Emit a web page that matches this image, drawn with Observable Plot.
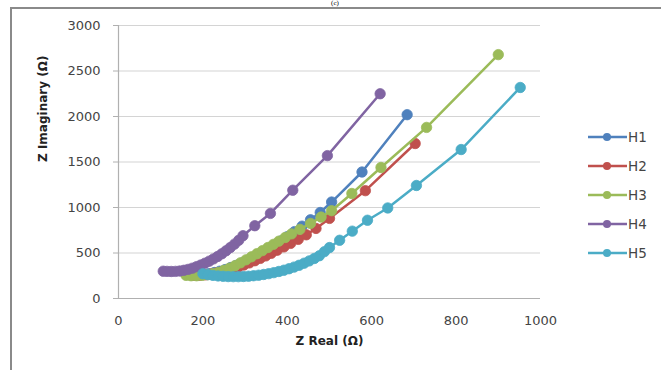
<!DOCTYPE html>
<html>
<head>
<meta charset="utf-8">
<script src="https://cdn.jsdelivr.net/npm/d3@7"></script>
<script src="https://cdn.jsdelivr.net/npm/@observablehq/plot@0.6"></script>
<style>
  html, body { margin: 0; padding: 0; background: #fff; }
  #wrap { position: relative; width: 661px; height: 370px; overflow: hidden; background: #fff; }
  #frame { position: absolute; left: 10px; top: 7px; width: 700px; height: 400px; border: 2px solid #8a8a8a; box-sizing: border-box; }
  #title { position: absolute; top: 0px; left: 300px; width: 70px; text-align: center; font: 7px "Liberation Serif", serif; color: #000; line-height: 7px; }
  #legend { position: absolute; left: 586px; top: 122px; font: 13.5px "DejaVu Sans", sans-serif; color: #444; }
  .item { height: 29.2px; display: flex; align-items: center; }
  .item svg { display: block; }
  #chart { position: absolute; left: 0; top: 0; }
</style>
</head>
<body>
<div id="wrap">
  <div id="frame"></div>
  <div id="chart"></div>
  <div id="title">(c)</div>
  <div id="legend"></div>
</div>
<script>
const seriesNames = ["H1", "H2", "H3", "H4", "H5"];
const seriesColors = ["#4F81BD", "#C0504D", "#9BBB59", "#8064A2", "#4BACC6"];

const h1Real = [162, 175, 188, 201, 214, 227, 240, 253, 266, 279, 292, 305, 318, 331, 344, 357, 370, 385, 400, 417, 435, 455, 478, 505, 577, 684];
const h1Imag = [262, 258, 259, 264, 273, 285, 300, 318, 340, 364, 390, 418, 448, 480, 514, 550, 588, 633, 680, 735, 795, 865, 945, 1060, 1390, 2020];

const h2Real = [168, 180, 193, 206, 219, 232, 245, 258, 271, 284, 297, 310, 323, 336, 349, 362, 376, 392, 408, 426, 445, 468, 500, 585, 703];
const h2Imag = [262, 256, 256, 260, 268, 279, 292, 308, 326, 346, 368, 391, 415, 441, 468, 497, 530, 567, 606, 650, 700, 770, 880, 1185, 1703];

const h3Real = [160, 172, 185, 198, 211, 224, 237, 250, 263, 276, 289, 302, 315, 328, 341, 354, 367, 380, 395, 410, 430, 455, 480, 505, 553, 622, 730, 900];
const h3Imag = [255, 250, 250, 254, 262, 273, 287, 310, 333, 360, 392, 425, 458, 492, 526, 560, 595, 630, 670, 710, 760, 825, 895, 965, 1154, 1440, 1880, 2680];

const h4Real = [106, 115, 125, 135, 145, 155, 165, 175, 185, 195, 205, 215, 225, 235, 245, 255, 265, 275, 285, 295, 323, 360, 413, 495, 620];
const h4Imag = [300, 298, 297, 298, 302, 310, 320, 333, 350, 368, 388, 410, 435, 462, 492, 525, 560, 598, 640, 690, 800, 935, 1190, 1570, 2250];

const h5Real = [200, 212, 224, 236, 248, 260, 272, 284, 296, 308, 320, 332, 344, 356, 368, 380, 392, 404, 416, 428, 440, 452, 464, 476, 488, 500, 524, 554, 590, 638, 706, 812, 952];
const h5Imag = [272, 262, 254, 248, 244, 241, 240, 240, 242, 245, 250, 256, 264, 273, 284, 297, 311, 327, 345, 365, 388, 413, 440, 470, 515, 560, 640, 740, 860, 995, 1242, 1637, 2319];

const xTicks = [0, 200, 400, 600, 800, 1000];
const yTicks = [0, 500, 1000, 1500, 2000, 2500, 3000];
const xTitle = "Z Real (Ω)";
const yTitle = "Z Imaginary (Ω)";

const reals = [h1Real, h2Real, h3Real, h4Real, h5Real];
const imags = [h1Imag, h2Imag, h3Imag, h4Imag, h5Imag];
const tables = seriesNames.map((name, i) => reals[i].map((r, j) => ({series: name, real: r, imag: imags[i][j]})));

const seriesMarks = [];
tables.forEach((data, i) => {
  seriesMarks.push(Plot.line(data, {x: "real", y: "imag", stroke: seriesColors[i], strokeWidth: 2.5}));
  seriesMarks.push(Plot.dot(data, {x: "real", y: "imag", r: 5.2, fill: seriesColors[i], stroke: seriesColors[i], strokeWidth: 0.8}));
});

const chart = Plot.plot({
  width: 661,
  height: 370,
  marginLeft: 118,
  marginRight: 121,
  marginTop: 25,
  marginBottom: 72,
  style: {fontFamily: "DejaVu Sans, sans-serif", fontSize: "13px", color: "#444", background: "transparent", overflow: "visible"},
  x: {domain: [0, 1000]},
  y: {domain: [0, 3000]},
  marks: [
    Plot.ruleY(yTicks.filter(d => d > 0), {stroke: "#d4d4d4", strokeWidth: 1.2}),
    Plot.ruleY([0], {stroke: "#b0b0b0", strokeWidth: 1.2}),
    Plot.ruleX([0], {stroke: "#b0b0b0", strokeWidth: 1.2}),
    Plot.axisY(yTicks, {tickSize: 5, tickPadding: 13, stroke: "#b0b0b0", label: null, tickFormat: d => String(d)}),
    Plot.axisX(xTicks, {tickSize: 0, tickPadding: 17, label: null, tickFormat: d => String(d)}),
    ...seriesMarks,
    Plot.text([xTitle], {frameAnchor: "bottom", dy: 46, fontWeight: "bold", fontSize: 12, fill: "#222"}),
    Plot.text([yTitle], {frameAnchor: "left", dx: -75, rotate: -90, fontWeight: "bold", fontSize: 12, fill: "#222"})
  ]
});
document.getElementById("chart").appendChild(chart);

const legend = d3.select("#legend");
seriesNames.forEach((name, i) => {
  const item = legend.append("div").attr("class", "item");
  const svg = item.append("svg").attr("width", 42).attr("height", 12);
  svg.append("line").attr("x1", 2).attr("x2", 41).attr("y1", 6).attr("y2", 6).attr("stroke", seriesColors[i]).attr("stroke-width", 2.5);
  svg.append("circle").attr("cx", 21).attr("cy", 6).attr("r", 4).attr("fill", seriesColors[i]);
  item.append("span").text(name);
});
</script>
</body>
</html>
